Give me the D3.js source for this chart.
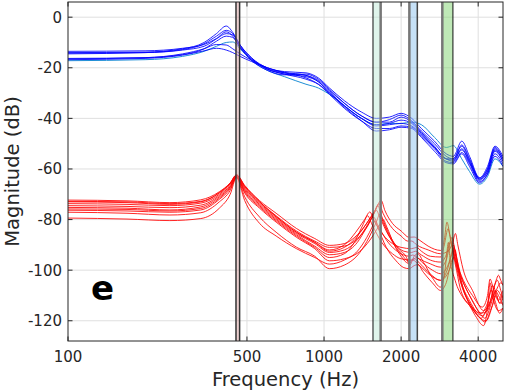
<!DOCTYPE html>
<html>
<head>
<meta charset="utf-8">
<script src="https://cdn.jsdelivr.net/npm/d3@7"></script>
<style>
  body { margin: 0; background: #fff; }
  text { font-family: "DejaVu Sans", sans-serif; fill: #262626; }
</style>
</head>
<body>
<div id="chart"></div>
<script>
var width = 505, height = 391;
var margin = { left: 68, right: 2, top: 2, bottom: 50 };

// tick labels
var freqTicks = [100, 500, 1000, 2000, 4000];
var magTicks = [0, -20, -40, -60, -80, -100, -120];

// highlighted frequency bands (Hz)
var bands = [[453, 468], [1553, 1664], [2154, 2314], [2897, 3187]];

// blue set: shared frequency grid, one dB array per curve
var blueFreq = [100, 200, 280, 340, 380, 415, 440, 470, 520, 600, 700, 850, 950, 1050, 1200,
  1400, 1600, 1800, 2000, 2200, 2400, 2700, 3000, 3200, 3450, 3700, 4050, 4350, 4650, 5000];

var blueDb = [
  [-14, -13.8, -12.5, -10, -6.5, -3.5, -6, -11, -16, -20, -21.5, -22, -24, -28, -33,
   -37.5, -40, -39.5, -38, -40, -44, -49, -54, -55, -49, -55, -63.5, -59, -51, -55],
  [-14.5, -14, -12.8, -10.5, -7.5, -5.2, -6.5, -11, -16, -20.5, -22, -23, -25, -29, -34,
   -39, -41.5, -40.5, -38.7, -41, -45, -50, -55, -56, -50.5, -56, -64, -60, -52, -56],
  [-13.5, -13.3, -12.3, -10.8, -8.5, -6.5, -7, -11.5, -16.5, -20.5, -22.5, -23.5, -25.5, -30, -35,
   -40, -42.5, -42, -40.7, -42, -46, -51.5, -56, -56.5, -52.5, -57, -64.5, -61, -53, -57],
  [-16.5, -16, -14.5, -12.5, -10.8, -11, -12.5, -14.5, -17, -20, -22, -24, -26.5, -30.5, -36,
   -41, -44, -44, -43, -43.5, -47, -52, -57, -57.5, -53.5, -58, -65, -62, -54, -58],
  [-16.8, -16.3, -15, -13.3, -12.3, -13, -14, -15.5, -17.5, -20, -21.8, -23, -25.5, -29.5, -35,
   -40, -43, -42.5, -42, -43, -46.5, -51.5, -56, -57, -52, -57.5, -64, -61, -52.5, -57],
  [-14.2, -14, -13, -11.5, -8.5, -5.8, -7.5, -12, -17, -21, -22.8, -22.5, -24.5, -28.5, -34,
   -39, -41.5, -41.5, -39.5, -41.5, -45.5, -51, -56, -56, -51, -56.5, -63.5, -60, -51.5, -56],
  [-16.3, -16, -14.8, -12.5, -9.5, -7.5, -8, -12, -16.5, -20.5, -22.5, -24.5, -26.5, -30, -35.5,
   -41, -45, -44.5, -43.5, -44, -47.5, -53, -57.5, -58, -54, -59, -65.5, -62, -55, -59]
];

// the lighter one in the blue set
var cyanDb = [-17.2, -16.8, -15.5, -13.5, -11.5, -10, -9.8, -12.5, -17, -21, -23.5, -26.5, -28, -30.5, -35,
  -40, -42.5, -42, -42, -41.5, -42.5, -47.5, -51.5, -50.8, -56, -61, -66, -63, -56, -59];

// red set: [Hz, dB] points per curve
var redCurves = [
  [[100,-72.3],[170,-72.6],[250,-73.3],[330,-72.2],[390,-69],[430,-65.5],[455,-62.3],[490,-66.5],[560,-72.5],[650,-77.5],[780,-83.5],[920,-87.5],[1050,-90.2],[1200,-89.5],[1350,-86],[1480,-81],[1600,-75.5],[1670,-72.4],[1730,-76.5],[1850,-81.5],[2000,-84.5],[2150,-87],[2250,-86.9],[2350,-88],[2550,-90.5],[2850,-92.2],[2950,-88],[3020,-81],[3100,-86],[3250,-95],[3500,-104],[3800,-110],[4150,-114.6],[4350,-110],[4450,-103.5],[4600,-108],[4800,-112],[5000,-108]],
  [[100,-73],[170,-73.3],[250,-74],[330,-73],[390,-69.5],[430,-65.8],[455,-62.5],[490,-67],[560,-73],[650,-78.5],[780,-84.5],[920,-88.5],[1050,-91],[1200,-90.5],[1350,-87.5],[1480,-82.5],[1570,-77.5],[1640,-73.7],[1700,-77.5],[1850,-83.5],[2000,-86.5],[2120,-88.5],[2200,-88.5],[2300,-90],[2550,-92],[2850,-93.5],[3050,-92.5],[3180,-89],[3260,-85.5],[3330,-90],[3500,-100],[3800,-108],[4200,-116],[4500,-111],[4700,-104],[4800,-102],[4900,-104],[5000,-106]],
  [[100,-73.7],[170,-74],[250,-74.5],[330,-73.5],[390,-70],[430,-66],[455,-62.6],[490,-67.5],[560,-73.5],[650,-79],[780,-85],[920,-89],[1050,-92],[1200,-90],[1330,-85],[1440,-80],[1510,-77],[1570,-80.5],[1700,-86],[1850,-89.5],[2000,-91],[2200,-91.5],[2300,-91],[2400,-92.5],[2600,-94.5],[2850,-94.8],[2950,-90],[3050,-83.6],[3120,-88],[3250,-96],[3500,-105],[3800,-112],[4100,-117],[4350,-113],[4550,-106],[4700,-109],[4850,-113],[5000,-110]],
  [[100,-74.5],[170,-74.8],[250,-75.3],[330,-74.3],[390,-70.5],[430,-66.5],[455,-62.8],[490,-68],[560,-74],[650,-79.5],[780,-85.5],[920,-89.5],[1050,-93],[1200,-92],[1350,-88],[1480,-82],[1560,-78],[1600,-76.3],[1650,-79],[1780,-86],[1900,-90],[2050,-92.5],[2200,-93],[2270,-92.5],[2400,-94],[2600,-96],[2850,-96.8],[3000,-94],[3100,-89],[3160,-87],[3230,-91],[3400,-101],[3700,-110],[4000,-116],[4250,-119],[4500,-113],[4650,-108],[4800,-110],[5000,-114]],
  [[100,-75.2],[170,-75.5],[250,-76.2],[330,-75],[390,-71],[430,-67],[455,-63],[490,-68.5],[560,-74.5],[650,-80],[780,-86],[920,-90.5],[1050,-93.9],[1200,-93],[1350,-89],[1460,-83.5],[1560,-79],[1620,-82],[1750,-88],[1900,-92],[2050,-94],[2150,-94.5],[2220,-94],[2350,-95.5],[2600,-97.5],[2850,-98.8],[3000,-96],[3070,-92],[3120,-89],[3180,-92],[3350,-102],[3600,-111],[3900,-118],[4200,-121.9],[4350,-115],[4450,-105],[4550,-110],[4800,-116],[5000,-115]],
  [[100,-75.8],[170,-76],[250,-76.6],[330,-75.6],[390,-71.5],[430,-67.3],[455,-63.1],[490,-69],[560,-75],[650,-80.5],[780,-86.5],[920,-91],[1050,-95],[1200,-93.5],[1330,-88],[1420,-82],[1480,-78.5],[1540,-82],[1680,-89],[1850,-93.5],[2000,-95.5],[2200,-96],[2300,-95],[2420,-97],[2650,-100],[2850,-101.4],[3050,-98],[3150,-93],[3200,-90],[3260,-93.5],[3400,-103],[3700,-112],[4150,-118],[4450,-113],[4700,-108],[4900,-105],[5000,-106]],
  [[100,-76.3],[170,-76.6],[250,-77.1],[330,-76.2],[390,-72],[430,-67.8],[455,-63.3],[490,-69.5],[560,-75.5],[650,-81],[780,-87],[920,-91.5],[1050,-96.3],[1200,-95.5],[1400,-92],[1550,-86.5],[1650,-82],[1700,-80],[1760,-83],[1880,-90],[2000,-94.5],[2100,-97],[2150,-97.4],[2220,-96],[2350,-98],[2600,-102],[2850,-104],[3050,-101],[3200,-95],[3250,-92],[3310,-96],[3450,-105],[3750,-114],[4300,-120],[4550,-114],[4700,-110],[4850,-113],[5000,-113]],
  [[100,-72.8],[170,-73],[250,-73.7],[330,-72.8],[390,-69.3],[430,-65.6],[455,-62.4],[490,-66.8],[560,-73],[650,-78.8],[780,-85],[920,-89],[1050,-92.5],[1200,-91],[1350,-86.5],[1500,-80],[1580,-76.5],[1620,-74.3],[1670,-78],[1800,-86],[1950,-91.5],[2100,-95],[2160,-98],[2250,-94.5],[2320,-93.5],[2450,-97],[2650,-103],[2850,-106.7],[2950,-102],[3000,-96],[3060,-89],[3100,-95],[3250,-104],[3500,-111],[3800,-115],[4100,-119],[4350,-114],[4500,-108],[4650,-112],[4850,-117],[5000,-115]],
  [[100,-79.4],[170,-79.8],[250,-80.4],[330,-79.6],[390,-75.5],[430,-70],[455,-63.5],[490,-72.5],[560,-81.5],[650,-86.5],[780,-91.5],[920,-95],[1050,-97.6],[1200,-96],[1350,-92.5],[1470,-87],[1540,-83],[1580,-80.5],[1620,-83],[1750,-91],[1900,-96],[2050,-99],[2150,-99.4],[2250,-98.2],[2320,-97.8],[2450,-101],[2650,-105],[2850,-108],[3000,-105],[3100,-99],[3200,-95],[3260,-98],[3400,-107],[3700,-114],[4000,-118],[4250,-120.5],[4500,-115],[4750,-108],[4900,-110],[5000,-112]],
  [[100,-77.1],[170,-77.5],[250,-78.2],[330,-77.3],[390,-73],[430,-68.5],[455,-63.2],[490,-71],[560,-79],[650,-85],[780,-90.9],[920,-94.5],[1050,-99.4],[1200,-98],[1380,-93],[1500,-87],[1600,-81],[1650,-78],[1700,-81],[1830,-88],[2000,-93.5],[2150,-96.5],[2250,-95.5],[2350,-97],[2600,-101.5],[2850,-104],[3000,-101],[3150,-94],[3220,-91],[3280,-96],[3450,-106],[3700,-113],[4100,-117],[4350,-116],[4600,-107],[4750,-104],[4900,-108],[5000,-111]]
];

var svg = d3.select('#chart').append('svg')
  .attr('width', width)
  .attr('height', height);

var x = d3.scaleLog().domain([100, 5000]).range([margin.left, width - margin.right]);
var y = d3.scaleLinear().domain([6, -128]).range([margin.top, height - margin.bottom - 0]);
y.range([2, 341]);

var x0 = x.range()[0], x1 = x.range()[1];
var y0 = y.range()[0], y1 = y.range()[1];

svg.append('clipPath').attr('id', 'plot')
  .append('rect').attr('x', x0).attr('y', y0).attr('width', x1 - x0).attr('height', y1 - y0);

// grid
svg.append('g').selectAll('line').data(freqTicks.slice(1)).enter().append('line')
  .attr('x1', function(d) { return x(d); }).attr('x2', function(d) { return x(d); })
  .attr('y1', y0).attr('y2', y1)
  .attr('stroke', '#dfdfdf').attr('stroke-width', 1);
svg.append('g').selectAll('line').data(magTicks).enter().append('line')
  .attr('x1', x0).attr('x2', x1)
  .attr('y1', function(d) { return y(d); }).attr('y2', function(d) { return y(d); })
  .attr('stroke', '#dfdfdf').attr('stroke-width', 1);

var line = d3.line()
  .x(function(d) { return x(d[0]); })
  .y(function(d) { return y(d[1]); })
  .curve(d3.curveMonotoneX);

var curves = svg.append('g').attr('clip-path', 'url(#plot)');

function zipBlue(db) {
  return db.map(function(v, i) { return [blueFreq[i], v]; });
}

curves.selectAll('path.red').data(redCurves).enter().append('path')
  .attr('class', 'red')
  .attr('d', line)
  .attr('fill', 'none')
  .attr('stroke', '#ff0000')
  .attr('stroke-opacity', 0.85)
  .attr('stroke-width', 1);

curves.append('path')
  .attr('d', line(zipBlue(cyanDb)))
  .attr('fill', 'none')
  .attr('stroke', '#1f8fd6')
  .attr('stroke-width', 1);

curves.selectAll('path.blue').data(blueDb).enter().append('path')
  .attr('class', 'blue')
  .attr('d', function(d) { return line(zipBlue(d)); })
  .attr('fill', 'none')
  .attr('stroke', '#0000ff')
  .attr('stroke-opacity', 0.85)
  .attr('stroke-width', 1);

// bands drawn on top, semi transparent
var bandFill = ['#d9a0a0', '#c0ead8', '#8ec4f0', '#7fd46f'];
var bandG = svg.append('g');
bandG.selectAll('rect').data(bands).enter().append('rect')
  .attr('x', function(d) { return x(d[0]); })
  .attr('width', function(d) { return x(d[1]) - x(d[0]); })
  .attr('y', y0).attr('height', y1 - y0)
  .attr('fill', function(d, i) { return bandFill[i]; })
  .attr('fill-opacity', 0.5);

// band edges: [left colour, left width, right colour, right width]
var bandEdge = [
  ['#333', 1.5, '#333', 1.5],
  ['#111', 1, '#777', 2.5],
  ['#777', 2.5, '#444', 1.5],
  ['#777', 2.5, '#111', 1]
];
bands.forEach(function(b, i) {
  var e = bandEdge[i];
  bandG.append('line').attr('x1', x(b[0])).attr('x2', x(b[0])).attr('y1', y0).attr('y2', y1)
    .attr('stroke', e[0]).attr('stroke-width', e[1]);
  bandG.append('line').attr('x1', x(b[1])).attr('x2', x(b[1])).attr('y1', y0).attr('y2', y1)
    .attr('stroke', e[2]).attr('stroke-width', e[3]);
});

// box + ticks
var axisColor = '#262626';
svg.append('rect')
  .attr('x', x0).attr('y', y0).attr('width', x1 - x0).attr('height', y1 - y0)
  .attr('fill', 'none').attr('stroke', axisColor).attr('stroke-width', 1);

var tickLen = 4.5;
var ticks = svg.append('g').attr('stroke', axisColor).attr('stroke-width', 1);
freqTicks.forEach(function(f) {
  ticks.append('line').attr('x1', x(f)).attr('x2', x(f)).attr('y1', y1).attr('y2', y1 - tickLen);
  ticks.append('line').attr('x1', x(f)).attr('x2', x(f)).attr('y1', y0).attr('y2', y0 + tickLen);
});
magTicks.forEach(function(m) {
  ticks.append('line').attr('x1', x0).attr('x2', x0 + tickLen).attr('y1', y(m)).attr('y2', y(m));
  ticks.append('line').attr('x1', x1).attr('x2', x1 - tickLen).attr('y1', y(m)).attr('y2', y(m));
});

svg.append('g').selectAll('text').data(freqTicks).enter().append('text')
  .attr('x', function(d) { return x(d); })
  .attr('y', 361.5)
  .attr('text-anchor', 'middle')
  .attr('font-size', '15px')
  .text(function(d) { return d; });

svg.append('g').selectAll('text').data(magTicks).enter().append('text')
  .attr('x', 62)
  .attr('y', function(d) { return y(d); })
  .attr('dy', '0.36em')
  .attr('text-anchor', 'end')
  .attr('font-size', '15px')
  .text(function(d) { return d; });

svg.append('text')
  .attr('x', (x0 + x1) / 2)
  .attr('y', 385.5)
  .attr('text-anchor', 'middle')
  .attr('font-size', '19.5px')
  .text('Frequency (Hz)');

svg.append('text')
  .attr('transform', 'translate(19,' + ((y0 + y1) / 2) + ') rotate(-90)')
  .attr('text-anchor', 'middle')
  .attr('font-size', '19.5px')
  .text('Magnitude (dB)');

svg.append('text')
  .attr('x', 91)
  .attr('y', 300)
  .attr('font-size', '34px')
  .attr('font-weight', 'bold')
  .style('fill', '#000')
  .text('e');
</script>
</body>
</html>
